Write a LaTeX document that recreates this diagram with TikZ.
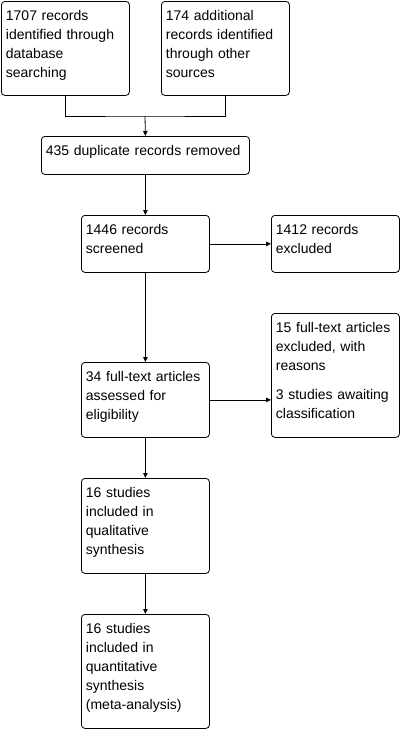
\documentclass[tikz,border=0pt]{standalone}
\usepackage{fontspec}
\setmainfont{Liberation Sans}
\usetikzlibrary{arrows.meta}
\begin{document}
\begin{tikzpicture}[x=1pt,y=-1pt,line width=0.8pt,>={Triangle[length=5pt,width=4.5pt]}]
            \useasboundingbox (0,0) rectangle (402,729);
            \begin{scope}[every node/.style={draw,rounded corners=3.5pt,anchor=north west,align=left,inner xsep=4.5pt,inner ysep=0pt,text height=19.5pt,font=\fontsize{14pt}{19pt}\selectfont}]
                \node (db)[text width=119pt,text depth=74.5pt] at (1,1) {1707 records\\identified through\\database\\searching};
                \node (other)[text width=119pt,text depth=74.5pt] at (161,1) {174 additional\\records identified\\through other\\sources};
                \node (dup)[text width=199pt,text depth=18.5pt] at (41,136) {435 duplicate records removed};
                \node (screen)[text width=119pt,text depth=37.5pt] at (81,215) {1446 records\\screened};
                \node (excl)[text width=119pt,text depth=37.5pt] at (271,215) {1412 records\\excluded};
                \node (ftexcl)[text width=119pt,text depth=104.5pt] at (271,313) {15 full-text articles\\excluded, with\\reasons\\[10pt]3 studies awaiting\\classification};
                \node (ftelig)[text width=119pt,text depth=55.5pt] at (81,362) {34 full-text articles\\assessed for\\eligibility};
                \node (qual)[text width=119pt,text depth=75.5pt] at (81,478) {16 studies\\included in\\qualitative\\synthesis};
                \node (quant)[text width=119pt,text depth=94.5pt] at (81,614) {16 studies\\included in\\quantitative\\synthesis\\(meta-analysis)};
            \end{scope}

            \begin{scope}
                \coordinate (join) at (145,116);
                \draw (db.south) |- (join) -| (other.south);
                \draw [->] (join) -- (dup.north);
                \path [->] (dup) edge node {} (screen);
                \path [->] (screen) edge node {} (excl);
                \path [->] (screen) edge node {} (ftelig);
                \draw [->] (ftelig.east) -- (ftelig.east -| ftexcl.west);
                \path [->] (ftelig) edge node {} (qual);
                \path [->] (qual) edge node {} (quant);
            \end{scope}
            \end{tikzpicture}
\end{document}
